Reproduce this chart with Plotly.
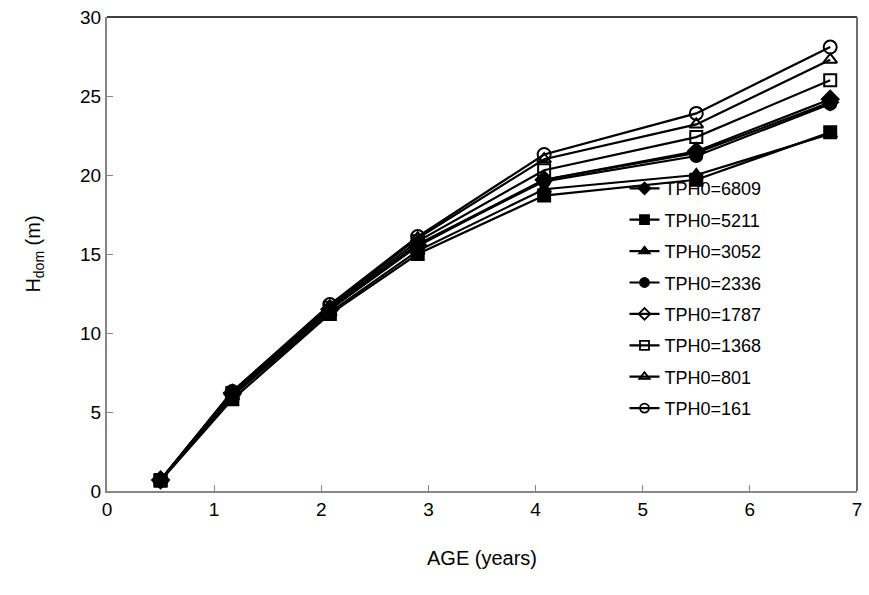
import plotly.graph_objects as go

# Stand age (years) at each measurement
ages = [0.5, 1.17, 2.08, 2.9, 4.08, 5.5, 6.75]

# Dominant height (m) per initial planting density (trees per hectare)
h_6809 = [0.7, 6.2, 11.5, 15.5, 19.7, 21.5, 24.8]
h_5211 = [0.65, 5.8, 11.2, 15.0, 18.7, 19.7, 22.7]
h_3052 = [0.7, 6.0, 11.3, 15.2, 19.1, 20.0, 22.6]
h_2336 = [0.7, 6.1, 11.5, 15.6, 19.6, 21.2, 24.5]
h_1787 = [0.7, 6.1, 11.5, 15.6, 19.7, 21.4, 24.6]
h_1368 = [0.7, 6.2, 11.6, 15.8, 20.3, 22.4, 26.0]
h_801 = [0.7, 6.3, 11.7, 16.0, 21.0, 23.2, 27.3]
h_161 = [0.7, 6.3, 11.8, 16.1, 21.3, 23.9, 28.1]

series = [
    ("TPH0=6809", h_6809, "diamond", 13),
    ("TPH0=5211", h_5211, "square", 12),
    ("TPH0=3052", h_3052, "triangle-up", 12),
    ("TPH0=2336", h_2336, "circle", 12),
    ("TPH0=1787", h_1787, "diamond-open", 12),
    ("TPH0=1368", h_1368, "square-open", 12),
    ("TPH0=801", h_801, "triangle-up-open", 12),
    ("TPH0=161", h_161, "circle-open", 13),
]

FONT = "Arial, Liberation Sans, sans-serif"

fig = go.Figure()
for i, (name, vals, sym, sz) in enumerate(series):
    fig.add_trace(go.Scatter(
        x=ages, y=vals, name=name, mode="lines+markers",
        showlegend=False,
        line=dict(color="black", width=2.2),
        marker=dict(symbol=sym, size=sz, color="black",
                    line=dict(color="black", width=2)),
    ))

# Legend entries use smaller markers than the plotted points
for i, (name, vals, sym, sz) in enumerate(series):
    fig.add_trace(go.Scatter(
        x=[None], y=[None], name=name, mode="lines+markers",
        legendgroup=f"g{i}",
        line=dict(color="black", width=2.2),
        marker=dict(symbol=sym, size=9, color="black",
                    line=dict(color="black", width=1.8)),
    ))

axis_font = dict(family=FONT, size=19, color="black")

fig.update_layout(
    width=869, height=595,
    margin=dict(l=107, r=7, t=16, b=104),
    paper_bgcolor="white", plot_bgcolor="white",
    font=axis_font,
    showlegend=True,
    legend=dict(
        x=0.69, y=0.677, xanchor="left", yanchor="top",
        bgcolor="rgba(0,0,0,0)", borderwidth=0,
        font=dict(family=FONT, size=18, color="black"),
        tracegroupgap=5,
    ),
    xaxis=dict(
        range=[0, 7], dtick=1, tick0=0,
        showgrid=False, zeroline=False,
        showline=True, linecolor="#868686", linewidth=2,
        ticks="inside", ticklen=6, tickcolor="#868686", tickwidth=1,
        tickfont=axis_font,
        title=dict(text="AGE (years)", font=dict(family=FONT, size=20), standoff=32),
    ),
    yaxis=dict(
        range=[0, 30], dtick=5, tick0=0,
        showgrid=False, zeroline=False,
        showline=True, linecolor="#868686", linewidth=2,
        ticks="inside", ticklen=6, tickcolor="#868686", tickwidth=1,
        tickfont=axis_font,
        title=dict(text="H<sub>dom</sub> (m)", font=dict(family=FONT, size=20), standoff=34),
    ),
    shapes=[
        dict(type="line", xref="paper", yref="paper", x0=0, x1=1, y0=1, y1=1,
             line=dict(color="black", width=1.5)),
        dict(type="line", xref="paper", yref="paper", x0=1, x1=1, y0=0, y1=1,
             line=dict(color="#6e6e6e", width=2)),
    ],
)

fig.write_html("out.html")
